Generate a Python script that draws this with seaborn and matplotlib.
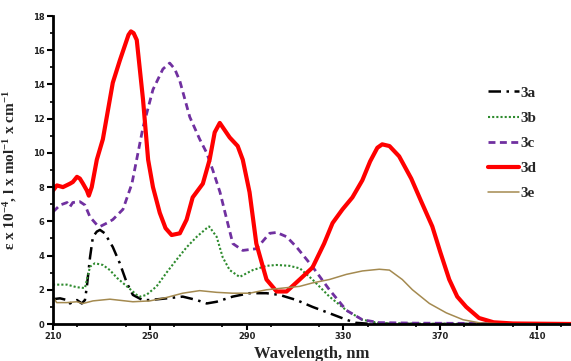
import matplotlib
matplotlib.use("Agg")
import matplotlib.pyplot as plt
import seaborn as sns
from matplotlib.ticker import MultipleLocator

# ---- data ----
wl_3a = [210, 212.9, 215.8, 217, 219.9, 221.9, 223.2, 224, 225.3, 226.5, 228.1, 229.4, 231.4,
         234.7, 237.6, 240.5, 243, 247, 250, 257, 263.6, 269.4, 273.5, 277.6, 284.2, 291.2,
         298.2, 303.6, 310.6, 317.2, 324.2, 331.2, 335, 340, 360, 424]
v_3a = [1.45, 1.5, 1.4, 1.2, 1.4, 1.2, 1.4, 2.2, 3.9, 5.1, 5.4, 5.5, 5.3,
        4.5, 3.55, 2.4, 1.7, 1.4, 1.4, 1.5, 1.6, 1.4, 1.2, 1.3, 1.6, 1.8,
        1.8, 1.7, 1.4, 1.0, 0.63, 0.25, 0.07, 0.02, 0.0, 0.0]

wl_3b = [210, 215.8, 219.8, 223.2, 224, 225.3, 227.3, 230.6, 233.5, 236.4, 240.5, 244.6, 246,
         248.6, 252.8, 256.9, 261, 265.3, 269.4, 273.5, 274.5, 277.6, 280.1, 283, 287.1, 292.5,
         298.2, 302.4, 307.7, 312, 317.2, 324.2, 331.2, 337.8, 345, 360, 424]
v_3b = [2.3, 2.3, 2.15, 2.1, 2.6, 3.35, 3.55, 3.45, 3.15, 2.7, 2.2, 1.7, 1.6,
        1.7, 2.2, 3.0, 3.75, 4.5, 5.1, 5.6, 5.7, 5.1, 3.9, 3.15, 2.75, 3.15,
        3.4, 3.45, 3.4, 3.25, 2.6, 1.6, 0.8, 0.25, 0.05, 0.02, 0.0]

wl_3c = [210, 212.9, 215.8, 217, 218.2, 221.1, 223.2, 225.3, 228.1, 229.5, 232.3, 234.7, 238.9,
         242.6, 247.2, 251.3, 255.4, 258.2, 260.3, 262.4, 266.5, 270.6, 273.5, 276, 279, 281.8,
         284.3, 288.4, 294, 299.5, 302.4, 306.5, 310.6, 317.2, 324.2, 331.2, 337.8, 344.8, 360,
         390, 424]
v_3c = [6.55, 6.95, 7.1, 6.85, 7.1, 7.15, 6.95, 6.25, 5.8, 5.7, 5.9, 6.1, 6.7,
        8.2, 11.5, 13.7, 14.9, 15.25, 14.9, 14.2, 12.1, 10.8, 10.0, 9.0, 7.7, 6.1,
        4.7, 4.3, 4.4, 5.3, 5.35, 5.1, 4.5, 3.35, 2.0, 0.8, 0.25, 0.08, 0.05,
        0.03, 0.0]

wl_3d = [210, 211.6, 214.1, 217, 218.2, 219.9, 221.1, 222.4, 224, 224.8, 226, 228.1, 230.6,
         234.7, 237.6, 240, 241.2, 242.2, 243.3, 244.6, 247.2, 249.3, 251.3, 254.1, 256.5, 259,
         262.4, 265.2, 267.7, 271.9, 274.7, 276.8, 278.9, 283, 286.3, 288.4, 291.2, 294, 298.2,
         302.4, 306.5, 311.9, 317.2, 322, 325.5, 329.6, 333.7, 337.8, 341, 344, 346, 349, 353,
         358, 362, 366.7, 370, 373.7, 377, 380.7, 386, 392, 400, 424]
v_3d = [7.8, 8.1, 8.0, 8.2, 8.3, 8.6, 8.5, 8.2, 7.8, 7.5, 8.0, 9.6, 10.8,
        14.1, 15.4, 16.4, 16.9, 17.1, 17.0, 16.6, 13.1, 9.6, 8.0, 6.5, 5.6, 5.2,
        5.3, 6.1, 7.4, 8.2, 9.6, 11.2, 11.75, 10.9, 10.4, 9.6, 7.7, 4.7, 2.6,
        1.9, 1.9, 2.6, 3.3, 4.7, 5.9, 6.7, 7.4, 8.4, 9.5, 10.3, 10.5, 10.4, 9.8,
        8.5, 7.2, 5.7, 4.2, 2.6, 1.6, 1.0, 0.35, 0.1, 0.03, 0.0]

wl_3e = [210, 211.5, 215.6, 219.8, 222.4, 226.5, 233.5, 243, 250, 256.9, 263.6, 270.6, 277.6,
         284.2, 291.2, 298.2, 305, 311.9, 317.2, 324.2, 331.2, 337.8, 344.8, 349, 354.3, 358.5,
         365.5, 372.5, 379.4, 386.1, 395, 424]
v_3e = [1.6, 1.25, 1.25, 1.3, 1.2, 1.35, 1.45, 1.3, 1.35, 1.55, 1.8, 1.95, 1.85,
        1.8, 1.8, 2.0, 2.1, 2.2, 2.4, 2.6, 2.9, 3.1, 3.2, 3.15, 2.6, 2.0,
        1.2, 0.65, 0.25, 0.07, 0.01, 0.0]

labels = ["3a", "3b", "3c", "3d", "3e"]
x_ticks = [210, 250, 290, 330, 370, 410]
y_ticks = [0, 2, 4, 6, 8, 10, 12, 14, 16, 18]

# ---- figure ----
sns.set_style("ticks")
plt.rcParams["font.family"] = ["DejaVu Sans"]
plt.rcParams["mathtext.fontset"] = "custom"
plt.rcParams["mathtext.rm"] = "Liberation Serif:bold"
plt.rcParams["mathtext.it"] = "Liberation Serif:bold"
plt.rcParams["mathtext.bf"] = "Liberation Serif:bold"
plt.rcParams["mathtext.default"] = "rm"

fig = plt.figure(figsize=(5.71, 3.61), dpi=100)
ax = fig.add_axes([53 / 571, 1 - 324 / 361, 1 - 53 / 571, (324 - 16) / 361])

styles = [
    dict(color="black", lw=1.8, linestyle=(0, (5, 2.2, 1, 2.2))),
    dict(color="#2E8B2E", lw=1.5, linestyle=(0, (1, 1))),
    dict(color="#7030A0", lw=2.0, linestyle=(0, (2.5, 1.6))),
    dict(color="#FF0000", lw=3.0, linestyle="-"),
    dict(color="#A48A50", lw=1.1, linestyle="-"),
]
series = [(wl_3a, v_3a), (wl_3b, v_3b), (wl_3c, v_3c), (wl_3d, v_3d), (wl_3e, v_3e)]
for (xs, ys), lab, st in zip(series, labels, styles):
    sns.lineplot(x=xs, y=ys, ax=ax, label=lab, sort=False, estimator=None,
                 solid_joinstyle="round", dash_joinstyle="round", **st)

ax.set_xlim(210, 424)
ax.set_ylim(0, 18)
ax.set_xticks(x_ticks)
ax.set_yticks(y_ticks)
ax.xaxis.set_minor_locator(MultipleLocator(20))
ax.yaxis.set_minor_locator(MultipleLocator(1))
ax.tick_params(axis="both", which="major", length=4, width=1.5, labelsize=6, pad=2, color="black")
ax.tick_params(axis="both", which="minor", length=2.5, width=1.2, color="black")
for lab in ax.get_xticklabels() + ax.get_yticklabels():
    lab.set_fontweight("bold")
    lab.set_color("#222222")

sns.despine(ax=ax)
for sp in ["left", "bottom"]:
    ax.spines[sp].set_linewidth(2.0)
    ax.spines[sp].set_color("black")

ax.set_xlabel("Wavelength, nm", fontfamily="Liberation Serif", fontweight="bold",
              fontsize=12, labelpad=3)
ax.set_ylabel(r"ε x 10$^{-4}$, l x mol$^{-1}$ x cm$^{-1}$", fontfamily="Liberation Serif",
              fontweight="bold", fontsize=11, labelpad=10)

leg = ax.legend(loc="upper left", bbox_to_anchor=(488 / 571, 1 - 86 / 361),
                bbox_transform=fig.transFigure, frameon=False, borderpad=0, borderaxespad=0,
                handlelength=2.0, handletextpad=0.1, labelspacing=0.75,
                prop={"family": "Liberation Serif", "weight": "bold", "size": 11})

fig.savefig("out.png", dpi=100)
